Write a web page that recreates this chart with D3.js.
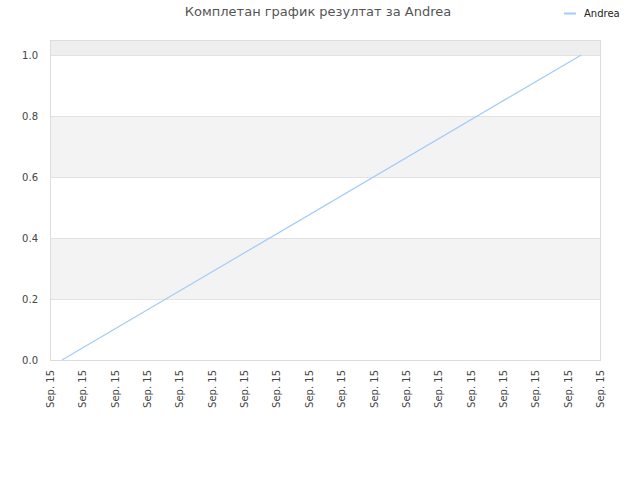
<!DOCTYPE html>
<html>
<head>
<meta charset="utf-8">
<script src="https://cdn.jsdelivr.net/npm/d3@7"></script>
<style>
  body { margin: 0; background: #fff; }
  text { font-family: "DejaVu Sans", sans-serif; }
</style>
</head>
<body>
<div id="chart"></div>
<script>
var width = 640,
    height = 480,
    margin = {top: 40, right: 40, bottom: 120, left: 50};

// tick labels along the time axis (all on the same day)
var tickLabels = ["Sep. 15", "Sep. 15", "Sep. 15", "Sep. 15", "Sep. 15", "Sep. 15",
                  "Sep. 15", "Sep. 15", "Sep. 15", "Sep. 15", "Sep. 15", "Sep. 15",
                  "Sep. 15", "Sep. 15", "Sep. 15", "Sep. 15", "Sep. 15", "Sep. 15"];
// series "Andrea": position along the time axis (in tick units) and score
var seriesX = [0.37, 16.42];
var seriesY = [0, 1];
var yTicks = [0, 0.2, 0.4, 0.6, 0.8, 1.0];
var bands = [[0.2, 0.4, "#f3f3f3"], [0.6, 0.8, "#f3f3f3"], [1.0, 1.049, "#eeeeee"]];

var svg = d3.select("#chart").append("svg")
    .attr("width", width)
    .attr("height", height);

var x = d3.scaleLinear()
    .domain([0, tickLabels.length - 1])
    .range([margin.left, width - margin.right]);

var y = d3.scaleLinear()
    .domain([0, 1.049])
    .range([height - margin.bottom, margin.top]);

// alternating bands
svg.selectAll(".band")
    .data(bands)
    .enter().append("rect")
    .attr("class", "band")
    .attr("x", margin.left)
    .attr("width", width - margin.right - margin.left)
    .attr("y", function (d) { return y(d[1]); })
    .attr("height", function (d) { return y(d[0]) - y(d[1]); })
    .attr("fill", function (d) { return d[2]; });

// horizontal grid
svg.selectAll(".grid")
    .data(yTicks)
    .enter().append("line")
    .attr("x1", margin.left)
    .attr("x2", width - margin.right)
    .attr("y1", function (d) { return Math.round(y(d)) + 0.5; })
    .attr("y2", function (d) { return Math.round(y(d)) + 0.5; })
    .attr("stroke", "#e2e2e2");

// plot frame
svg.append("rect")
    .attr("x", margin.left + 0.5)
    .attr("y", margin.top + 0.5)
    .attr("width", width - margin.right - margin.left)
    .attr("height", height - margin.bottom - margin.top)
    .attr("fill", "none")
    .attr("stroke", "#dddddd");

// y labels
svg.selectAll(".ylab")
    .data(yTicks)
    .enter().append("text")
    .attr("x", margin.left - 12)
    .attr("y", function (d) { return y(d) + 4; })
    .attr("text-anchor", "end")
    .attr("font-size", 10)
    .attr("fill", "#444")
    .text(function (d) { return d.toFixed(1); });

// x labels, rotated
svg.selectAll(".xlab")
    .data(tickLabels)
    .enter().append("text")
    .attr("transform", function (d, i) {
        return "translate(" + (x(i) + 4) + "," + (height - margin.bottom + 10) + ") rotate(-90)";
    })
    .attr("text-anchor", "end")
    .attr("font-size", 10)
    .attr("fill", "#444")
    .text(function (d) { return d; });

// the series line
var line = d3.line()
    .x(function (d) { return x(d[0]); })
    .y(function (d) { return y(d[1]); });

svg.append("path")
    .datum(d3.zip(seriesX, seriesY))
    .attr("d", line)
    .attr("fill", "none")
    .attr("stroke", "#a3cdf7")
    .attr("stroke-width", 1.2);

// title
svg.append("text")
    .attr("x", 318)
    .attr("y", 16)
    .attr("text-anchor", "middle")
    .attr("font-size", 13)
    .attr("fill", "#555")
    .text("Комплетан график резултат за Andrea");

// legend
svg.append("line")
    .attr("x1", 564).attr("x2", 576)
    .attr("y1", 13.5).attr("y2", 13.5)
    .attr("stroke", "#a3cdf7")
    .attr("stroke-width", 2);

svg.append("text")
    .attr("x", 584)
    .attr("y", 17)
    .attr("font-size", 10)
    .attr("fill", "#222")
    .text("Andrea");
</script>
</body>
</html>
